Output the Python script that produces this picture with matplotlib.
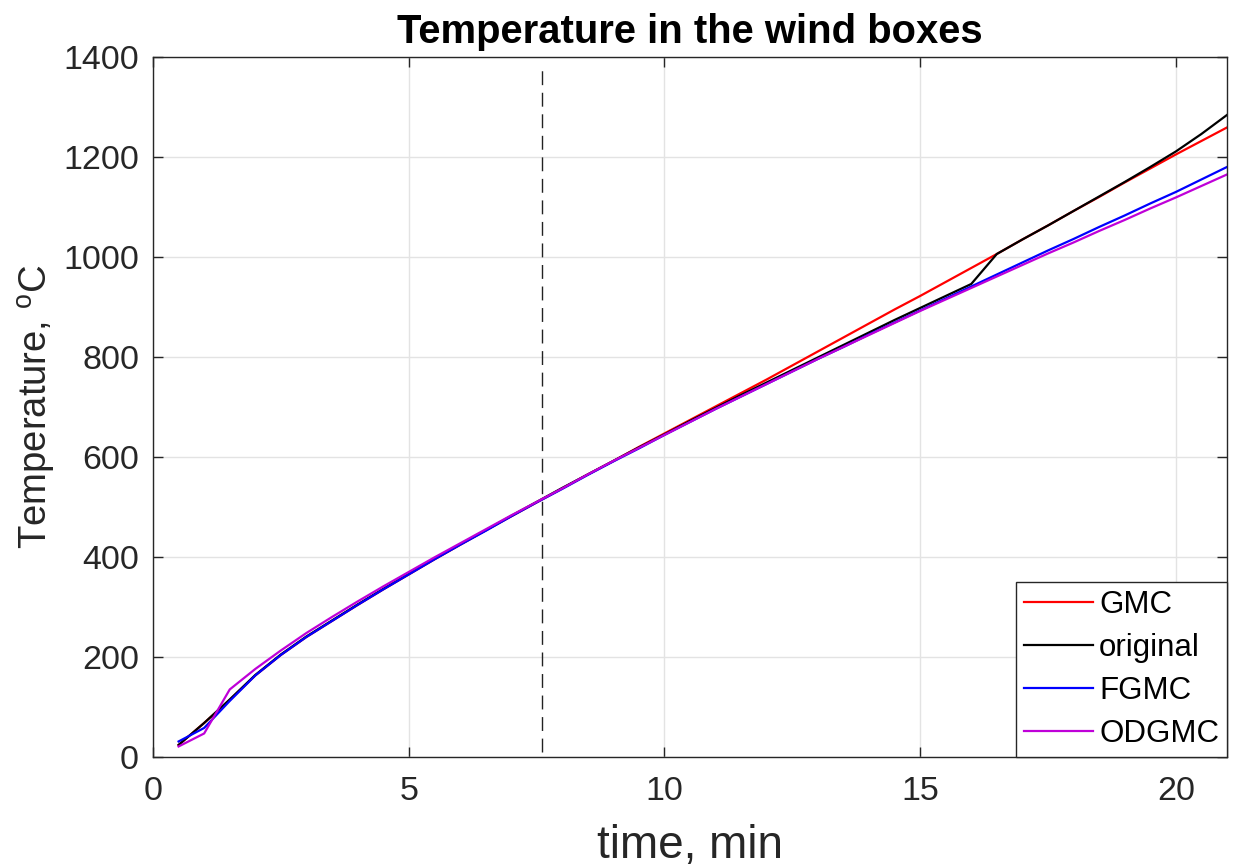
import matplotlib
matplotlib.use("Agg")
import matplotlib.pyplot as plt

plt.rcParams['font.family'] = ['Liberation Sans', 'DejaVu Sans']

# time samples, min
time_min = [0.5, 1.0, 1.5, 2.0, 2.5, 3.0, 3.5, 4.0, 4.5, 5.0, 5.5, 6.0, 6.5, 7.0,
            7.5, 8.0, 8.5, 9.0, 9.5, 10.0, 10.5, 11.0, 11.5, 12.0, 12.5, 13.0, 13.5,
            14.0, 14.5, 15.0, 15.5, 16.0, 16.5, 17.0, 17.5, 18.0, 18.5, 19.0, 19.5,
            20.0, 20.5, 21.0]

# wind box temperature, degC
gmc = [24, 68, 114, 163, 204, 240, 272, 304, 335, 365, 395, 424, 453, 481,
       509, 537, 565, 592, 620, 647, 674, 701, 728, 755, 783, 811, 839,
       867, 895, 922, 950, 978, 1006, 1035, 1063, 1092, 1120, 1149, 1177,
       1205, 1232, 1259]
original = [24, 68, 115, 164, 205, 241, 273, 305, 336, 366, 396, 425, 453, 482,
            510, 538, 565, 592, 619, 645, 672, 698, 724, 749, 774, 799, 824,
            849, 874, 898, 922, 946, 1006, 1035, 1063, 1092, 1121, 1150, 1180,
            1211, 1246, 1284]
fgmc = [31, 58, 112, 163, 204, 240, 272, 304, 335, 365, 395, 424, 452, 481,
        509, 536, 564, 591, 617, 644, 670, 696, 721, 746, 771, 796, 820,
        845, 869, 893, 917, 941, 965, 989, 1013, 1036, 1060, 1083, 1107,
        1130, 1155, 1180]
odgmc = [21, 47, 135, 176, 213, 248, 280, 311, 341, 370, 399, 427, 455, 483,
         510, 537, 565, 592, 618, 644, 670, 696, 721, 746, 771, 796, 820,
         844, 868, 892, 915, 938, 961, 984, 1007, 1029, 1052, 1074, 1097,
         1119, 1142, 1165]

marker_time = 7.6
marker_span = [10, 1380]

xticks = [0, 5, 10, 15, 20]
yticks = [0, 200, 400, 600, 800, 1000, 1200, 1400]

fig = plt.figure(figsize=(12.43, 8.66), dpi=100)
ax = fig.add_axes([0.1231, 0.1259, 0.8640, 0.8083])

lw = 1.6
ax.plot(time_min, gmc, color='#ff0000', lw=lw, label='GMC')
ax.plot(time_min, original, color='#000000', lw=lw, label='original')
ax.plot(time_min, fgmc, color='#0000ff', lw=lw, label='FGMC')
ax.plot(time_min, odgmc, color='#bf00d8', lw=lw, label='ODGMC')

ax.plot([marker_time, marker_time], marker_span, color='#222222', lw=1.0,
        dashes=(10, 5.5))

ax.set_xlim(0, 21)
ax.set_ylim(0, 1400)
ax.set_xticks(xticks)
ax.set_yticks(yticks)
ax.grid(True, color='#e3e3e3', lw=1.0)
ax.set_axisbelow(True)

axis_col = '#262626'
for s in ax.spines.values():
    s.set_color(axis_col)
    s.set_linewidth(1.0)
ax.tick_params(direction='in', length=7, width=1.0, colors=axis_col,
               labelsize=24.5, top=True, right=True, pad=10)
ax.tick_params(axis='x', pad=14)

ax.set_xlabel('time, min', fontsize=33, color=axis_col, labelpad=12)
ax.set_ylabel('Temperature, $\\mathregular{^{o}}$C', fontsize=27.5, color=axis_col,
              labelpad=4)
ax.set_title('Temperature in the wind boxes', fontsize=28.8, fontweight='bold',
             color='black', pad=10)

leg = ax.legend(loc='lower right', fontsize=22.5, frameon=True, fancybox=False,
                borderaxespad=0.0, handlelength=2.2, handletextpad=0.2,
                labelspacing=0.42, borderpad=0.25)
leg.get_frame().set_edgecolor('#262626')
leg.get_frame().set_linewidth(1.0)
leg.get_frame().set_alpha(1.0)

fig.savefig('out.png', dpi=100)
